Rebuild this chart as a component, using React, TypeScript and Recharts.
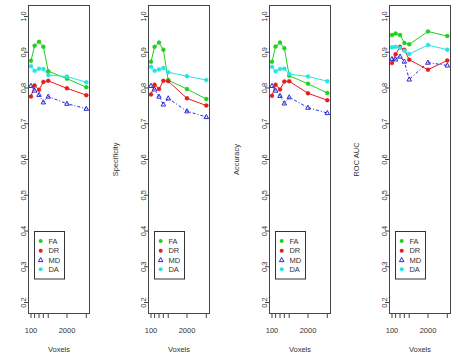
import React from "react";
import { LineChart, Line, XAxis, YAxis } from "recharts";

// x positions (voxels, log axis)
const voxels = [100, 135, 195, 280, 420, 2000, 10000];
const shownXLabels = [100, 2000];
const yTicks = [0.2, 0.3, 0.4, 0.5, 0.6, 0.7, 0.8, 0.9, 1.0];
// first panel's y title sits off the left edge of the picture, so it is not drawn
const panelTitles = ["", "Specificity", "Accuracy", "ROC AUC"];
const measures = ["FA", "DR", "MD", "DA"];

const sensFA = [0.876, 0.918, 0.929, 0.915, 0.847, 0.826, 0.802];
const sensDR = [0.776, 0.807, 0.795, 0.817, 0.82, 0.799, 0.78];
const sensMD = [0.806, 0.793, 0.781, 0.76, 0.776, 0.756, 0.742];
const sensDA = [0.861, 0.848, 0.854, 0.853, 0.836, 0.832, 0.816];

const specFA = [0.873, 0.915, 0.927, 0.907, 0.822, 0.797, 0.769];
const specDR = [0.782, 0.809, 0.797, 0.82, 0.819, 0.771, 0.751];
const specMD = [0.806, 0.796, 0.776, 0.754, 0.771, 0.735, 0.719];
const specDA = [0.859, 0.848, 0.852, 0.856, 0.844, 0.833, 0.822];

const accFA = [0.873, 0.916, 0.927, 0.911, 0.834, 0.812, 0.786];
const accDR = [0.778, 0.809, 0.796, 0.818, 0.819, 0.785, 0.766];
const accMD = [0.806, 0.793, 0.778, 0.757, 0.774, 0.745, 0.73];
const accDA = [0.859, 0.847, 0.853, 0.854, 0.839, 0.832, 0.819];

const aucFA = [0.948, 0.952, 0.948, 0.926, 0.922, 0.958, 0.945];
const aucDR = [0.87, 0.894, 0.915, 0.907, 0.879, 0.851, 0.877];
const aucMD = [0.881, 0.88, 0.888, 0.874, 0.824, 0.871, 0.863];
const aucDA = [0.914, 0.915, 0.912, 0.904, 0.895, 0.92, 0.907];

const panelSeries = [
  [sensFA, sensDR, sensMD, sensDA],
  [specFA, specDR, specMD, specDA],
  [accFA, accDR, accMD, accDA],
  [aucFA, aucDR, aucMD, aucDA],
];

const colors: Record<string, string> = {
  FA: "#1fd01f",
  DR: "#e61b1b",
  MD: "#2a2ad6",
  DA: "#29e3e3",
};

const font = "'Liberation Sans', Arial, sans-serif";
const AXIS_W = 28;
const PLOT_W = 62;
const CHART_W = AXIS_W + PLOT_W + 3;
const CHART_H = 354;
const TOP = 5;
const X_AXIS_H = 40;
const PLOT_H = CHART_H - TOP - X_AXIS_H;
const plotLefts = [28, 148, 269, 389];

const triPath = (cx: number, cy: number) => {
  const s = 2.5;
  return `M${cx},${cy - s}L${cx + s * 0.9},${cy + s * 0.65}L${cx - s * 0.9},${cy + s * 0.65}Z`;
};

const renderTriangle = (p: any) => {
  if (p.cx == null || p.cy == null) return <g key={`t-${p.index}`} />;
  return (
    <path key={`t-${p.index}`} d={triPath(p.cx, p.cy)} fill="none" stroke={colors.MD} strokeWidth={1} />
  );
};

const XTick = (props: any) => {
  const { x, payload } = props;
  if (!shownXLabels.includes(payload.value)) return <g />;
  return (
    <text x={x} y={CHART_H - X_AXIS_H + 19.3} textAnchor="middle" fontSize={7.5} fill="#333" fontFamily={font}>
      {payload.value}
    </text>
  );
};

const YTick = (props: any) => {
  const { y, payload } = props;
  const bx = AXIS_W - 2;
  return (
    <text x={bx} y={y} transform={`rotate(-90 ${bx} ${y})`} textAnchor="middle" fontSize={7.5} fill="#333" fontFamily={font}>
      {payload.value.toFixed(1)}
    </text>
  );
};

const Panel = ({ idx }: { idx: number }) => {
  const series = panelSeries[idx];
  const data = voxels.map((v, i) => ({
    voxels: v,
    FA: series[0][i],
    DR: series[1][i],
    MD: series[2][i],
    DA: series[3][i],
  }));
  const legY = [241, 250.7, 260, 269.3];

  return (
    <div style={{ position: "absolute", left: plotLefts[idx] - AXIS_W, top: 0, width: CHART_W, height: CHART_H }}>
      <LineChart width={CHART_W} height={CHART_H} data={data} margin={{ top: TOP, right: CHART_W - AXIS_W - PLOT_W, bottom: 0, left: 0 }}>
        <XAxis
          dataKey="voxels"
          type="number"
          scale="log"
          domain={[78, 13600]}
          allowDataOverflow
          ticks={voxels}
          interval={0}
          height={X_AXIS_H}
          axisLine={false}
          tickSize={4}
          tickMargin={0}
          tickLine={{ stroke: "#444" }}
          tick={XTick}
        />
        <YAxis
          type="number"
          domain={[0.168, 1.032]}
          allowDataOverflow
          ticks={yTicks}
          interval={0}
          width={AXIS_W}
          axisLine={false}
          tickSize={4}
          tickMargin={0}
          tickLine={{ stroke: "#444" }}
          tick={YTick}
        />
        {measures.map((m) => (
          <Line
            key={m}
            dataKey={m}
            type="linear"
            stroke={colors[m]}
            strokeWidth={1}
            strokeDasharray={m === "MD" ? "1 2 3 2" : undefined}
            dot={m === "MD" ? renderTriangle : { r: 2, fill: colors[m], stroke: colors[m], strokeWidth: 0.4 }}
            activeDot={false}
            isAnimationActive={false}
          />
        ))}
      </LineChart>
      <svg
        width={CHART_W}
        height={CHART_H}
        style={{ position: "absolute", left: 0, top: 0, overflow: "visible", pointerEvents: "none" }}
        fontFamily={font}
      >
        <rect x={AXIS_W + 0.5} y={TOP + 0.5} width={PLOT_W - 1} height={PLOT_H - 1} fill="none" stroke="#444" strokeWidth={1} />
        {panelTitles[idx] && (
          <text
            x={AXIS_W - 29.6}
            y={TOP + PLOT_H / 2}
            transform={`rotate(-90 ${AXIS_W - 29.6} ${TOP + PLOT_H / 2})`}
            textAnchor="middle"
            fontSize={7.5}
            fill="#333"
          >
            {panelTitles[idx]}
          </text>
        )}
        <text x={AXIS_W + PLOT_W / 2} y={352} textAnchor="middle" fontSize={7.5} fill="#333">
          Voxels
        </text>
        <rect x={AXIS_W + 6.5} y={231.5} width={30} height={47.5} fill="none" stroke="#333" strokeWidth={1} />
        {measures.map((m, i) =>
          m === "MD" ? (
            <path key={m} d={triPath(AXIS_W + 12.7, legY[i])} fill="none" stroke={colors[m]} strokeWidth={1} />
          ) : (
            <circle key={m} cx={AXIS_W + 12.7} cy={legY[i]} r={2} fill={colors[m]} />
          )
        )}
        {measures.map((m, i) => (
          <text key={m} x={AXIS_W + 20.4} y={legY[i] + 2.7} fontSize={7.5} fill="#333">
            {m}
          </text>
        ))}
      </svg>
    </div>
  );
}

export default function App() {
  return (
    <div style={{ position: "absolute", left: 0, top: 0, width: 458, height: 354, overflow: "hidden", background: "#fff" }}>
      {panelSeries.map((_, i) => (
        <Panel key={i} idx={i} />
      ))}
    </div>
  );
}
